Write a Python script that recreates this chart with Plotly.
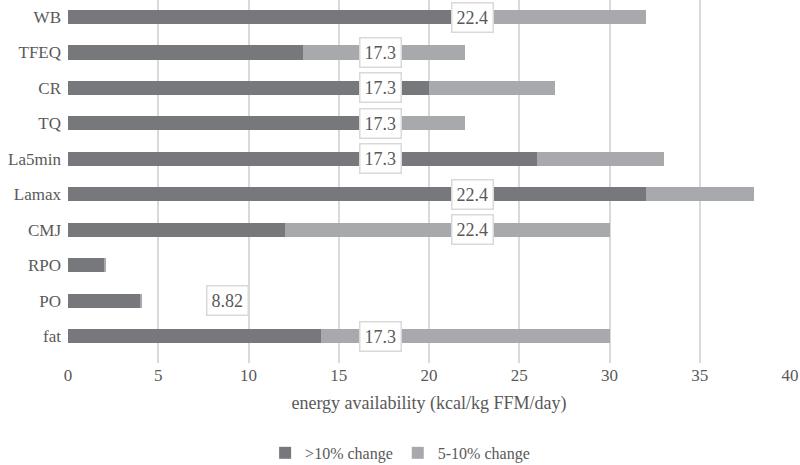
import plotly.graph_objects as go

# ── Data ──────────────────────────────────────────────────────────────────────
CATEGORIES = ["WB", "TFEQ", "CR", "TQ", "La5min", "Lamax", "CMJ", "RPO", "PO", "fat"]
OVER_10    = [22, 13, 20, 17, 26, 32, 12, 2, 4, 14]          # >10% change
FIVE_TEN   = [10, 9, 7, 5, 7, 6, 18, 0.1, 0.1, 16]           # 5-10% change (stacked)
LABEL_CATS = ["WB", "TFEQ", "CR", "TQ", "La5min", "Lamax", "CMJ", "PO", "fat"]
LABEL_VALS = [22.4, 17.3, 17.3, 17.3, 17.3, 22.4, 22.4, 8.82, 17.3]
X_TICKS    = [0, 5, 10, 15, 20, 25, 30, 35, 40]

# ── Style ─────────────────────────────────────────────────────────────────────
DARK  = "#77787c"
LIGHT = "#a8a9ad"
GRID  = "#d9d9d9"
TEXT  = "#595959"
FONT  = "Times New Roman, Liberation Serif, DejaVu Serif, serif"

fig = go.Figure()
fig.add_trace(go.Bar(y=CATEGORIES, x=OVER_10, orientation="h", name=">10% change",
                     marker=dict(color=DARK, line=dict(width=0))))
fig.add_trace(go.Bar(y=CATEGORIES, x=FIVE_TEN, orientation="h", name="5-10% change",
                     marker=dict(color=LIGHT, line=dict(width=0))))

for cat, val in zip(LABEL_CATS, LABEL_VALS):
    fig.add_annotation(x=val, y=cat, text=f"{val:g}", showarrow=False,
                       font=dict(family=FONT, size=18, color=TEXT),
                       bgcolor="white", bordercolor=GRID, borderwidth=1.5, borderpad=4)

fig.update_layout(
    barmode="stack",
    bargap=0.6,
    width=800, height=465,
    paper_bgcolor="white", plot_bgcolor="white",
    font=dict(family=FONT, color=TEXT, size=17),
    margin=dict(l=68, r=10, t=0, b=102),
    xaxis=dict(range=[0, 40], tickvals=X_TICKS, showgrid=True, gridcolor=GRID, gridwidth=1.5,
               zeroline=False, showline=False, ticks="", automargin=False,
               title=dict(text="energy availability (kcal/kg FFM/day)", font=dict(size=18), standoff=12)),
    yaxis=dict(categoryorder="array", categoryarray=CATEGORIES[::-1], range=[-0.76, 9.48],
               showgrid=False, showline=False, ticks="", ticklabelstandoff=6, automargin=False),
    legend=dict(orientation="h", x=0.46, xanchor="center", yref="container", y=0.026, yanchor="middle",
                font=dict(size=16), traceorder="normal", itemwidth=30),
)

# page body has a default 8px margin; drop it so the figure sits at the corner
fig.write_html("out.html", config={"displayModeBar": False},
               post_script="document.body.style.margin='0';")
